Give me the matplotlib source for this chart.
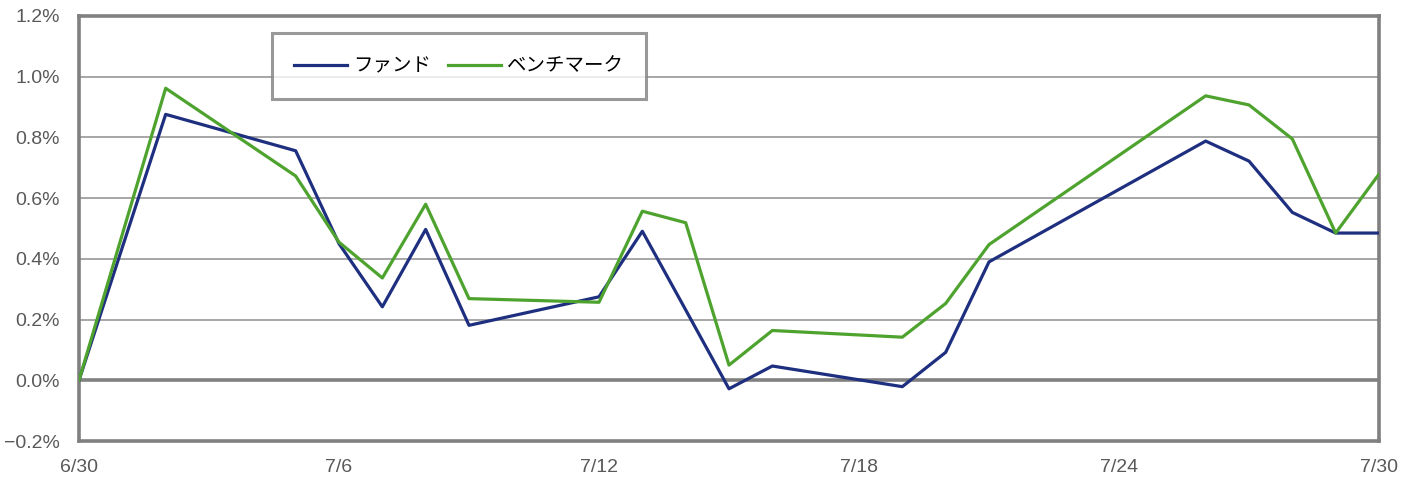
import datetime as dt
import matplotlib
matplotlib.use("Agg")
import matplotlib.pyplot as plt
import matplotlib.dates as mdates
from matplotlib.ticker import FuncFormatter, MultipleLocator

# data (cumulative return, %)
dates = ["2021-06-30", "2021-07-02", "2021-07-05", "2021-07-06", "2021-07-07",
         "2021-07-08", "2021-07-09", "2021-07-12", "2021-07-13", "2021-07-14",
         "2021-07-15", "2021-07-16", "2021-07-19", "2021-07-20", "2021-07-21",
         "2021-07-26", "2021-07-27", "2021-07-28", "2021-07-29", "2021-07-30"]
fund = [0.0, 0.876, 0.756, 0.450, 0.242, 0.497, 0.181, 0.275, 0.491, 0.232,
        -0.028, 0.047, -0.021, 0.092, 0.390, 0.788, 0.722, 0.553, 0.485, 0.485]
bench = [0.0, 0.962, 0.673, 0.455, 0.337, 0.580, 0.269, 0.257, 0.557, 0.519,
         0.050, 0.164, 0.142, 0.253, 0.447, 0.937, 0.907, 0.795, 0.485, 0.679]
labels = ["ファンド", "ベンチマーク"]
x_ticks = ["2021-06-30", "2021-07-06", "2021-07-12", "2021-07-18", "2021-07-24", "2021-07-30"]

x = [dt.datetime.strptime(d, "%Y-%m-%d") for d in dates]
xt = [dt.datetime.strptime(d, "%Y-%m-%d") for d in x_ticks]

grid_col = "#a6a6a6"
axis_col = "#808080"
text_col = "#595959"
tick_font = ["Liberation Sans", "DejaVu Sans"]

fig = plt.figure(figsize=(14.19, 4.79), dpi=100)
ax = fig.add_axes([79 / 1419, 38 / 479, 1300 / 1419, 425 / 479])

ax.set_ylim(-0.2, 1.2)
ax.set_xlim(xt[0], xt[-1])
ax.yaxis.set_major_locator(MultipleLocator(0.2))
ax.set_xticks(xt)

# horizontal grid, zero line drawn heavier
for v in [0.2, 0.4, 0.6, 0.8, 1.0]:
    ax.axhline(v, color=grid_col, lw=1.4, zorder=1)
ax.axhline(0, color=axis_col, lw=2.6, zorder=1)

ax.plot(x, fund, color="#1f2f80", lw=2.3, label=labels[0], zorder=3)
ax.plot(x, bench, color="#4ea32f", lw=2.3, label=labels[1], zorder=3)

for s in ax.spines.values():
    s.set_color(axis_col)
    s.set_linewidth(2.6)

def yfmt(v, pos):
    s = "%.1f%%" % v
    return s.replace("-", "\u2212")

ax.yaxis.set_major_formatter(FuncFormatter(yfmt))
ax.xaxis.set_major_formatter(FuncFormatter(
    lambda v, pos: "%d/%d" % (mdates.num2date(v).month, mdates.num2date(v).day)))
ax.tick_params(length=0, colors=text_col, labelsize=14)
ax.tick_params(axis="y", pad=14)
ax.tick_params(axis="x", pad=13)
for t in ax.get_xticklabels() + ax.get_yticklabels():
    t.set_family(tick_font)

leg = ax.legend(loc="upper left", bbox_to_anchor=(193 / 1300, 408 / 425),
                ncol=2, frameon=True, fancybox=False, borderpad=1.15,
                borderaxespad=0, handlelength=2.7, handletextpad=0.3,
                columnspacing=0.9,
                prop={"family": ["Noto Sans CJK JP", "DejaVu Sans"], "size": 14})
leg.get_frame().set_edgecolor(axis_col)
leg.get_frame().set_linewidth(2.2)
leg.set_zorder(5)

fig.savefig("out.png", dpi=100)
